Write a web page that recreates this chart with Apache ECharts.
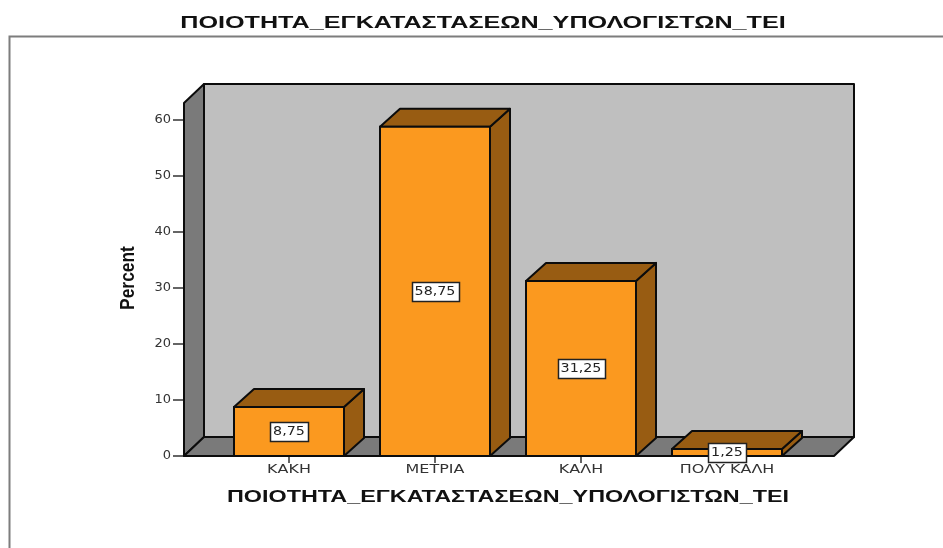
<!DOCTYPE html>
<html>
<head>
<meta charset="utf-8">
<style>html,body{margin:0;padding:0;background:#fff}#c{width:943px;height:548px}</style>
<script src="https://cdn.jsdelivr.net/npm/echarts@6/dist/echarts.min.js"></script>
</head>
<body>
<div id="c"></div>
<script>
const chartTitle = 'ΠΟΙΟΤΗΤΑ_ΕΓΚΑΤΑΣΤΑΣΕΩΝ_ΥΠΟΛΟΓΙΣΤΩΝ_ΤΕΙ';
const yName = 'Percent';
const categories = ['ΚΑΚΗ', 'ΜΕΤΡΙΑ', 'ΚΑΛΗ', 'ΠΟΛΥ ΚΑΛΗ'];
const percents = [8.75, 58.75, 31.25, 1.25];
const yTicks = [0, 10, 20, 30, 40, 50, 60];

const DEPTH_X = 20, DEPTH_Y = 19, BAR_DX = 20, BAR_DY = 18, BAR_W = 110;
const PAD_L = 32, PAD_R = 34;
const LINE = '#0c0c0c', FRONT = '#fb991f', DARK = '#985c12', WALL = '#7a7a7a', BACK = '#bfbfbf';

function poly(points, fill) {
  return { type: 'polygon', shape: { points },
    style: { fill, stroke: LINE, lineWidth: 2, lineJoin: 'round' } };
}

function renderWalls(params, api) {
  const cs = params.coordSys;
  const l = cs.x - PAD_L, r = cs.x + cs.width + PAD_R, t = cs.y, b = cs.y + cs.height;
  return { type: 'group', children: [
    poly([[l + DEPTH_X, t - DEPTH_Y], [r + DEPTH_X, t - DEPTH_Y], [r + DEPTH_X, b - DEPTH_Y], [l + DEPTH_X, b - DEPTH_Y]], BACK),
    poly([[l, b], [l, t], [l + DEPTH_X, t - DEPTH_Y], [l + DEPTH_X, b - DEPTH_Y]], WALL),
    poly([[l, b], [l + DEPTH_X, b - DEPTH_Y], [r + DEPTH_X, b - DEPTH_Y], [r, b]], WALL)
  ]};
}

function renderBar(params, api) {
  const top = api.coord([api.value(0), api.value(1)]);
  const base = api.coord([api.value(0), 0]);
  const cx = top[0], l = cx - BAR_W / 2, r = cx + BAR_W / 2, t = top[1], b = base[1];
  const txt = api.value(1).toFixed(2).replace('.', ',');
  const boxW = txt.length * 9 + 2, boxH = 19, my = (t + b) / 2;
  return { type: 'group', children: [
    poly([[r, b], [r, t], [r + BAR_DX, t - BAR_DY], [r + BAR_DX, b - BAR_DY]], DARK),
    poly([[l, t], [l + BAR_DX, t - BAR_DY], [r + BAR_DX, t - BAR_DY], [r, t]], DARK),
    { type: 'rect', shape: { x: l, y: t, width: BAR_W, height: b - t },
      style: { fill: FRONT, stroke: LINE, lineWidth: 2 } },
    { type: 'rect', z2: 5, shape: { x: Math.round(cx - boxW / 2) + 0.5, y: Math.round(my - boxH / 2) + 0.5, width: boxW, height: boxH },
      style: { fill: '#fff', stroke: '#222', lineWidth: 1.5 } },
    { type: 'text', z2: 6, x: cx, y: my, scaleX: 1.1,
      style: { text: txt, align: 'center', verticalAlign: 'middle', fill: '#222', font: '13px "DejaVu Sans"' } },
    { type: 'text', z2: 4, x: cx, y: b + 14, scaleX: 1.33,
      style: { text: categories[params.dataIndex], align: 'center', verticalAlign: 'middle', fill: '#333', font: '12px "DejaVu Sans"' } }
  ]};
}

const chart = echarts.init(document.getElementById('c'), null, { renderer: 'canvas' });
chart.setOption({
  animation: false,
  backgroundColor: '#fff',
  graphic: [
    { type: 'polyline', silent: true, shape: { points: [[9.5, 548], [9.5, 36.5], [943, 36.5]] },
      style: { fill: null, stroke: '#7d7d7d', lineWidth: 2 } },
    { type: 'text', silent: true, x: 483, y: 23, scaleX: 1.48,
      style: { text: chartTitle, align: 'center', verticalAlign: 'middle', fill: '#111', font: 'bold 17px "Liberation Sans"' } },
    { type: 'text', silent: true, x: 508, y: 498, scaleX: 1.46,
      style: { text: chartTitle, align: 'center', verticalAlign: 'middle', fill: '#111', font: 'bold 16px "Liberation Sans"' } },
    { type: 'text', silent: true, x: 128, y: 278, rotation: Math.PI / 2, scaleX: 0.87,
      style: { text: yName, align: 'center', verticalAlign: 'middle', fill: '#111', font: 'bold 20px "Liberation Sans"' } }
  ],
  grid: { left: 216, top: 103, width: 584, height: 353 },
  xAxis: { type: 'category', data: categories, boundaryGap: true,
    axisLine: { show: false },
    axisTick: { show: true, alignWithLabel: true, length: 7, lineStyle: { color: '#333', width: 1.5 } },
    axisLabel: { show: false } },
  yAxis: { type: 'value', min: 0, max: 63, offset: PAD_L, splitLine: { show: false },
    axisLine: { show: false },
    axisTick: { show: true, length: 11, customValues: yTicks, lineStyle: { color: '#333', width: 1.5 } },
    axisLabel: { margin: 13, padding: [2, 0, 0, 0], customValues: yTicks, fontFamily: 'DejaVu Sans', fontSize: 13, color: '#333' } },
  series: [
    { type: 'custom', z: 1, silent: true, renderItem: renderWalls, data: [[0, 0]], encode: { x: 0, y: 1 } },
    { type: 'custom', z: 2, silent: true, renderItem: renderBar, encode: { x: 0, y: 1 },
      data: categories.map((c, i) => [i, percents[i]]) }
  ]
});
</script>
</body>
</html>
